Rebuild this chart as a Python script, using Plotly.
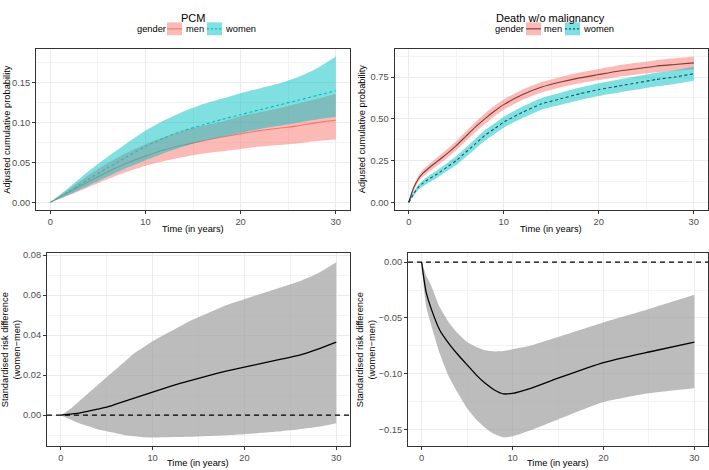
import plotly.graph_objects as go

W, H = 709, 470

# ---------------- data ----------------
# PCM (top-left): adjusted cumulative probability
t_pcm = [0, 2, 4, 6, 8, 10, 12, 14, 16, 18, 20, 22, 24, 26, 28, 30]
pcm_men = [0, .013, .026, .038, .049, .058, .066, .072, .077, .082, .086, .090, .093, .096, .100, .103]
pcm_men_lo = [0, .009, .019, .029, .038, .046, .052, .057, .061, .064, .067, .070, .072, .074, .077, .079]
pcm_men_hi = [0, .017, .034, .049, .062, .073, .082, .090, .096, .101, .108, .113, .118, .124, .130, .136]
pcm_women = [0, .014, .029, .043, .057, .070, .081, .090, .097, .104, .110, .116, .122, .128, .134, .140]
pcm_women_lo = [0, .010, .021, .032, .043, .053, .062, .070, .077, .082, .087, .092, .096, .100, .104, .107]
pcm_women_hi = [0, .019, .039, .057, .074, .090, .103, .114, .123, .130, .137, .143, .149, .157, .168, .183]

# Death w/o malignancy (top-right)
t_dth = [0, 0.5, 1, 1.5, 2, 3, 4, 5, 6, 7, 8, 9, 10, 12, 14, 16, 18, 20, 22, 24, 26, 28, 30]
dth_men = [0, .085, .14, .175, .20, .245, .29, .34, .395, .45, .50, .545, .585, .645, .69, .72, .745, .765, .785, .80, .815, .825, .835]
dth_men_lo = [0, .07, .122, .155, .178, .221, .264, .313, .366, .420, .469, .514, .554, .614, .659, .689, .713, .732, .751, .765, .779, .788, .797]
dth_men_hi = [0, .10, .158, .195, .222, .269, .316, .367, .424, .480, .531, .576, .616, .676, .721, .751, .777, .798, .819, .835, .851, .862, .873]
dth_women = [0, .05, .09, .115, .135, .17, .21, .25, .30, .35, .40, .44, .48, .54, .59, .62, .65, .675, .695, .715, .735, .75, .77]
dth_women_lo = [0, .038, .074, .097, .115, .148, .186, .224, .272, .320, .369, .408, .447, .506, .555, .584, .613, .637, .656, .675, .694, .709, .728]
dth_women_hi = [0, .062, .106, .133, .155, .192, .234, .276, .328, .380, .431, .472, .513, .574, .625, .656, .687, .713, .734, .755, .776, .791, .812]

# Standardised risk differences (bottom row)
t_diff = [0, 1, 2, 3, 4, 5, 6, 7, 8, 9, 10, 12, 14, 16, 18, 20, 22, 24, 26, 28, 30]
rd_pcm = [0, .0005, .001, .002, .003, .004, .0055, .007, .0085, .010, .0115, .0145, .0172, .0197, .022, .024, .026, .028, .030, .033, .0365]
rd_pcm_hi = [0, .003, .007, .011, .015, .019, .023, .027, .031, .034, .037, .042, .047, .051, .055, .058, .061, .064, .067, .071, .0765]
rd_pcm_lo = [0, -.002, -.004, -.0055, -.007, -.008, -.009, -.010, -.0105, -.011, -.0111, -.011, -.0108, -.0104, -.010, -.0095, -.0088, -.008, -.007, -.0058, -.004]

t_diff2 = [0, 0.25, 0.5, 1, 2, 3, 4, 5, 6, 7, 8, 9, 10, 12, 15, 20, 25, 30]
rd_dth = [0, -.015, -.027, -.0405, -.061, -.073, -.083, -.092, -.101, -.1086, -.1145, -.118, -.1175, -.113, -.104, -.090, -.0805, -.0716]
rd_dth_hi = [0, -.006, -.012, -.020, -.0405, -.054, -.064, -.0716, -.076, -.079, -.080, -.0796, -.078, -.0746, -.067, -.054, -.042, -.0293]
rd_dth_lo = [0, -.024, -.040, -.055, -.082, -.1027, -.1175, -.131, -.141, -.1485, -.154, -.157, -.156, -.1506, -.141, -.1254, -.1175, -.113]

# ---------------- style ----------------
RED = "#F8766D"
TEAL = "#00BFC4"
RED_F = "rgba(248,118,109,0.5)"
TEAL_F = "rgba(0,191,196,0.5)"
GREY_F = "rgba(160,160,160,0.7)"
FONT = "Liberation Sans, Arial, sans-serif"

fig = go.Figure()


def ribbon(x, lo, hi, color, xa, ya):
    fig.add_trace(go.Scatter(x=x, y=lo, mode="lines",
                             line=dict(width=0, shape="spline", smoothing=0.5),
                             hoverinfo="skip", showlegend=False, xaxis=xa, yaxis=ya))
    fig.add_trace(go.Scatter(x=x, y=hi, mode="lines", fill="tonexty", fillcolor=color,
                             line=dict(width=0, shape="spline", smoothing=0.5),
                             hoverinfo="skip", showlegend=False, xaxis=xa, yaxis=ya))


def line(x, y, color, dash, xa, ya, width=1.1):
    fig.add_trace(go.Scatter(x=x, y=y, mode="lines", line=dict(color=color, width=width, dash=dash,
                                                               shape="spline", smoothing=0.5),
                             showlegend=False, xaxis=xa, yaxis=ya))


# top-left: lines beneath ribbons (as in the reference)
line(t_pcm, pcm_men, RED, "solid", "x", "y")
line(t_pcm, pcm_women, TEAL, "3px,2.5px", "x", "y")
ribbon(t_pcm, pcm_men_lo, pcm_men_hi, RED_F, "x", "y")
ribbon(t_pcm, pcm_women_lo, pcm_women_hi, TEAL_F, "x", "y")

# top-right
line(t_dth, dth_men, "black", "solid", "x2", "y2")
line(t_dth, dth_women, "black", "3px,2.5px", "x2", "y2")
ribbon(t_dth, dth_men_lo, dth_men_hi, RED_F, "x2", "y2")
ribbon(t_dth, dth_women_lo, dth_women_hi, TEAL_F, "x2", "y2")

# bottom-left
ribbon(t_diff, rd_pcm_lo, rd_pcm_hi, GREY_F, "x3", "y3")
line(t_diff, rd_pcm, "black", "solid", "x3", "y3", 1.3)

# bottom-right
ribbon(t_diff2, rd_dth_lo, rd_dth_hi, GREY_F, "x4", "y4")
line(t_diff2, rd_dth, "black", "solid", "x4", "y4", 1.3)


def rng(vals, pad=0.05):
    lo, hi = min(vals), max(vals)
    d = (hi - lo) * pad
    return [lo - d, hi + d]


xr = rng([0, 30])
grid = dict(showgrid=True, gridcolor="#EBEBEB", gridwidth=1, zeroline=False,
            showline=True, mirror=True, linecolor="#333333", linewidth=1,
            ticks="outside", ticklen=3, tickcolor="#333333", tickwidth=1,
            tickfont=dict(family=FONT, size=9.3, color="#4D4D4D"))


def px(v):
    return v / W


def py(v):
    return 1 - v / H


panels = [
    ("xaxis", "yaxis", [36, 350], [46.5, 208], rng(pcm_women_hi + pcm_men_lo), 0.05, "x", "y"),
    ("xaxis2", "yaxis2", [394.5, 708], [46.5, 208], rng(dth_men_hi + dth_women_lo), 0.25, "x2", "y2"),
    ("xaxis3", "yaxis3", [47, 350], [252, 446], rng(rd_pcm_hi + rd_pcm_lo), 0.02, "x3", "y3"),
    ("xaxis4", "yaxis4", [408, 708], [252, 446], rng(rd_dth_hi + rd_dth_lo + [0]), 0.05, "x4", "y4"),
]
lay = {}
for xa, ya, xd, yd, yr, dt, xn, yn in panels:
    lay[xa] = dict(domain=[px(xd[0]), px(xd[1])], range=xr, anchor=yn, dtick=10, tick0=0,
                   minor=dict(dtick=5, tick0=0, showgrid=True, gridcolor="#F3F3F3", gridwidth=0.6),
                   **grid)
    lay[ya] = dict(domain=[py(yd[1]), py(yd[0])], range=yr, anchor=xn, dtick=dt, tick0=0,
                   tickformat=".2f",
                   minor=dict(dtick=dt / 2, tick0=0, showgrid=True, gridcolor="#F3F3F3", gridwidth=0.6),
                   **grid)

shapes = []
# zero reference lines in bottom panels
for xn, yn in [("x3", "y3"), ("x4", "y4")]:
    shapes.append(dict(type="line", xref=xn + " domain", yref=yn, x0=0, x1=1, y0=0, y1=0,
                       line=dict(color="black", width=1.2, dash="5px,4px"), layer="above"))

annotations = []


def text(x, y, s, size=9.3, color="black", xanchor="center", angle=0):
    annotations.append(dict(x=px(x), y=py(y), xref="paper", yref="paper", text=s, showarrow=False,
                            xanchor=xanchor, yanchor="middle", textangle=angle,
                            font=dict(family=FONT, size=size, color=color)))


text(193, 15, "PCM", 11)
text(550, 15, "Death w/o malignancy", 11)

# legends
for gx, mk, mtx, wk, wtx, mline in [(135, 167, 184, 207, 223, RED), (493, 526, 542, 565, 581, "#7C3B37")]:
    text(gx, 26, "gender", 9.3, xanchor="left")
    shapes.append(dict(type="rect", xref="paper", yref="paper", x0=px(mk), x1=px(mk + 15), y0=py(32.5), y1=py(19.5),
                       fillcolor="#FBBAB6", line=dict(width=0)))
    shapes.append(dict(type="line", xref="paper", yref="paper", x0=px(mk), x1=px(mk + 15), y0=py(26), y1=py(26),
                       line=dict(color=mline, width=1.1)))
    text(mtx, 26, "men", 9.3, xanchor="left")
    wl = TEAL if mline == RED else "#005F62"
    shapes.append(dict(type="rect", xref="paper", yref="paper", x0=px(wk), x1=px(wk + 15), y0=py(32.5), y1=py(19.5),
                       fillcolor="#7FDFE1", line=dict(width=0)))
    shapes.append(dict(type="line", xref="paper", yref="paper", x0=px(wk), x1=px(wk + 15), y0=py(26), y1=py(26),
                       line=dict(color=wl, width=1.1, dash="2px,2px")))
    text(wtx, 26, "women", 9.3, xanchor="left")

# axis titles
for cx in [193, 551]:
    text(cx, 227, "Time (in years)")
for cx in [198, 558]:
    text(cx, 463, "Time (in years)")
text(7.5, 127, "Adjusted cumulative probability", angle=-90)
text(362, 127, "Adjusted cumulative probability", angle=-90)
text(10.5, 349, "Standardised risk difference<br>(women−men)", angle=-90)
text(365.5, 349, "Standardised risk difference<br>(women−men)", angle=-90)

fig.update_layout(width=W, height=H, margin=dict(l=0, r=0, t=0, b=0),
                  paper_bgcolor="white", plot_bgcolor="white", showlegend=False,
                  hovermode=False,
                  shapes=shapes, annotations=annotations, **lay)

fig.write_html("out.html", config={"displayModeBar": False},
               post_script="document.body.style.margin='0px';")
